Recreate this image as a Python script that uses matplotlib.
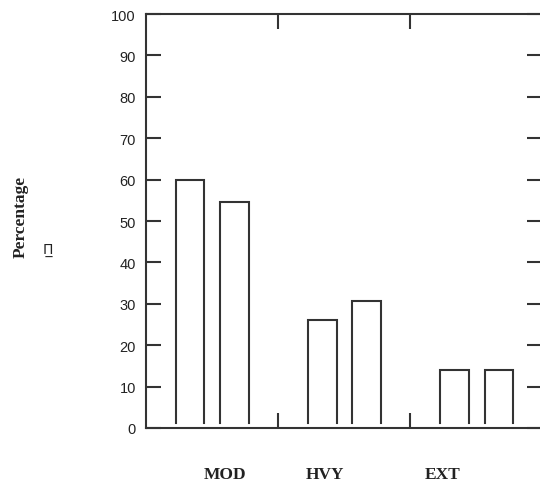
import numpy as np
import matplotlib.pyplot as plt

# values
groups = ['MOD', 'HVY', 'EXT']
first_bar = [60, 26, 14]
second_bar = [54.5, 30.7, 14]
y_ticks = list(range(0, 101, 10))
label_pos = [0.6, 1.36, 2.25]   # where the group names sit (not centred in the original)

line_col = '#333333'
lw = 1.5

fig = plt.figure(figsize=(5.4, 4.89), dpi=100)
ax = fig.add_axes([0.2698, 0.1227, 0.734, 0.8466])

# open bars: no bottom edge, lifted slightly off the axis
base = 1.1
width = 0.215
offsets = [0.3375, 0.6725]
for i, g in enumerate(groups):
    for off, vals in zip(offsets, [first_bar, second_bar]):
        left = i + off - width / 2
        right = i + off + width / 2
        ax.plot([left, left, right, right], [base, vals[i], vals[i], base],
                color=line_col, lw=lw, solid_joinstyle='miter', clip_on=False)

ax.set_xlim(0, 3)
ax.set_ylim(0, 100)

for s in ax.spines.values():
    s.set_color(line_col)
    s.set_linewidth(lw)

ax.set_yticks(y_ticks)
ax.set_yticklabels([str(t) for t in y_ticks], fontfamily='Liberation Sans', fontsize=10.5,
                   color='#222222')
ax.set_xticks([1, 2])
ax.set_xticklabels([])
ax.tick_params(axis='both', direction='in', length=10.8, width=lw, color=line_col,
               top=True, right=True, pad=7)

for x, g in zip(label_pos, groups):
    ax.text(x, -0.111, g, transform=ax.get_xaxis_transform(), ha='center', va='center',
            fontfamily='Liberation Serif', fontweight='bold', fontsize=12.5, color='#222222')

fig.text(21 / 540, 1 - 217 / 489, 'Percentage', rotation=90, ha='center', va='center',
         fontfamily='Liberation Serif', fontweight='bold', fontsize=12.5, color='#222222')
# little unit glyph next to the axis title (Pi with a line under it)
fig.text(48 / 540, 1 - 250 / 489, '\u03a0\u0332', ha='center', va='center',
         fontfamily='DejaVu Sans', fontsize=10, color='#222222')

fig.savefig('out.png', dpi=100, facecolor='white')
